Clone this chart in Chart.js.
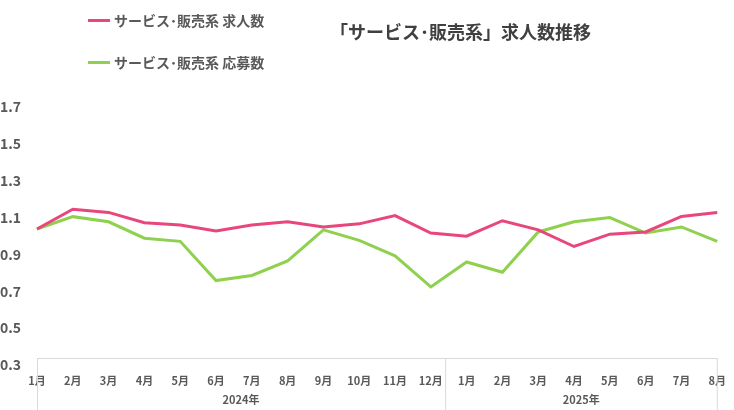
<!DOCTYPE html>
<html><head><meta charset="utf-8">
<script src="https://cdn.jsdelivr.net/npm/chart.js@4"></script>
<style>
body{margin:0;background:#fff;font-family:"Noto Sans CJK JP",sans-serif;}
#wrap{position:relative;width:734px;height:410px;}
.lg{position:absolute;font-size:14px;font-weight:bold;color:#595959;display:flex;align-items:center;}
.lg span{display:inline-block;width:22px;height:3px;margin-right:4px;}
#title{position:absolute;left:330px;top:18px;font-size:18px;font-weight:bold;color:#404040;}
</style></head><body>
<div id="wrap">
<canvas id="c" width="734" height="410"></canvas>
<div class="lg" style="left:88px;top:10px"><span style="background:#e8467c"></span>サービス･販売系 求人数</div>
<div class="lg" style="left:88px;top:52px"><span style="background:#8fd14f"></span>サービス･販売系 応募数</div>
<div id="title">「サービス･販売系」求人数推移</div>
</div>
<script>
const months=["1月","2月","3月","4月","5月","6月","7月","8月","9月","10月","11月","12月","1月","2月","3月","4月","5月","6月","7月","8月"];
const years=["2024年","2025年"];
const yearSpans=[[0,11],[12,19]];
const jobs=[1.0,1.107,1.09,1.034,1.022,0.989,1.022,1.039,1.011,1.028,1.073,0.978,0.961,1.045,0.995,0.905,0.972,0.984,1.068,1.09];
const applicants=[1.0,1.067,1.039,0.95,0.933,0.72,0.748,0.827,0.995,0.938,0.854,0.686,0.821,0.765,0.984,1.039,1.062,0.978,1.011,0.933];
const yTicks=[0.3,0.5,0.7,0.9,1.1,1.3,1.5,1.7];
const frame={id:'frame',afterDraw(ch){
 const c=ch.ctx,a=ch.chartArea,x=ch.scales.x;
 c.save();c.strokeStyle='#d9d9d9';c.lineWidth=1;
 c.beginPath();c.moveTo(a.left,a.bottom+.5);c.lineTo(a.right,a.bottom+.5);
 const step=(a.right-a.left)/months.length;
 const seps=[a.left,a.left+step*12,a.right-0.5];
 seps.forEach(s=>{c.moveTo(s+.5,a.bottom);c.lineTo(s+.5,410);});
 c.stroke();
 c.fillStyle='#595959';c.font='bold 11px "Noto Sans CJK JP"';c.textAlign='center';c.textBaseline='middle';
 yearSpans.forEach((sp,i)=>{const l=a.left+step*sp[0],r=a.left+step*(sp[1]+1);c.fillText(years[i],(l+r)/2,400);});
 c.restore();}};
new Chart(document.getElementById('c'),{type:'line',
data:{labels:months,datasets:[
 {data:jobs,borderColor:'#e8467c',borderWidth:3,pointRadius:0,tension:0},
 {data:applicants,borderColor:'#8fd14f',borderWidth:3,pointRadius:0,tension:0}]},
options:{responsive:false,animation:false,
 layout:{padding:{top:100,right:0,left:0,bottom:0}},
 plugins:{legend:{display:false},tooltip:{enabled:false}},
 scales:{
  x:{grid:{display:false},border:{display:false},ticks:{color:'#595959',font:{size:11,weight:'bold',family:'Noto Sans CJK JP'},maxRotation:0,autoSkip:false,padding:8},
     afterFit(s){s.height=52;}},
  y:{min:0.3,max:1.7,grid:{display:false},border:{display:false},
     afterBuildTicks(s){s.ticks=yTicks.map(v=>({value:v}));},
     ticks:{color:'#595959',font:{size:14,weight:'bold',family:'Noto Sans CJK JP'},callback:v=>v.toFixed(1),align:'start',crossAlign:'far'},
     afterFit(s){s.width=37;}}}},
plugins:[frame]});
</script></body></html>
